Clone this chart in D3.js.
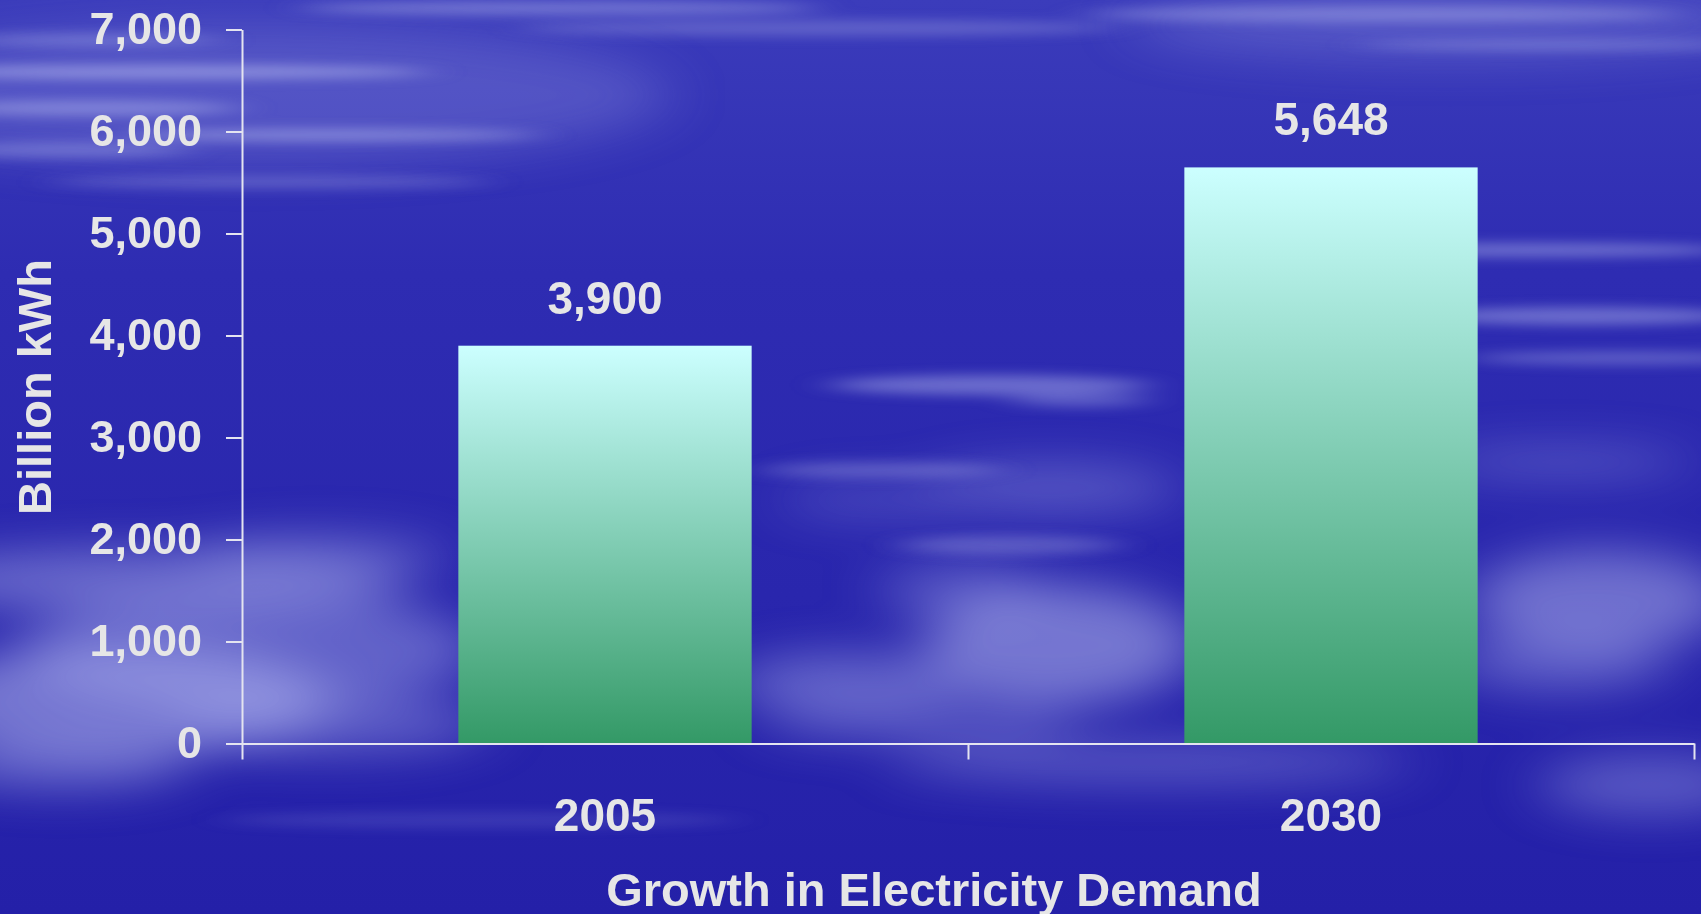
<!DOCTYPE html>
<html>
<head>
<meta charset="utf-8">
<script src="https://cdn.jsdelivr.net/npm/d3@7"></script>
<style>
  html, body { margin: 0; padding: 0; background: #2c2ab0; }
  svg { display: block; }
  text { font-family: "Liberation Sans", Arial, sans-serif; font-weight: bold; fill: #e6e6e6; }
</style>
</head>
<body>
<svg id="chart" width="1701" height="914"></svg>
<script>
// Electricity demand, billion kWh
const years = ["2005", "2030"];
const demand = [3900, 5648];
const yTicks = [0, 1000, 2000, 3000, 4000, 5000, 6000, 7000];
const yTitle = "Billion kWh";
const xTitle = "Growth in Electricity Demand";

// Backdrop cloud shapes: [cx, cy, rx, ry, opacity]
const haze = [
  [120, 700, 210, 55, .6], [250, 650, 230, 60, .45], [150, 580, 260, 32, .5],
  [330, 725, 160, 30, .4], [60, 765, 130, 25, .45], [320, 555, 130, 22, .35],
  [1050, 488, 130, 25, .35], [870, 500, 90, 18, .25], [1060, 645, 135, 60, .6],
  [960, 590, 80, 28, .35], [850, 682, 120, 30, .45], [920, 722, 160, 20, .35],
  [1150, 762, 260, 20, .4], [1600, 600, 130, 50, .55], [1560, 662, 110, 30, .4],
  [1650, 785, 110, 30, .4], [1560, 462, 130, 15, .35], [250, 95, 420, 70, .25],
  [1450, 25, 320, 35, .25]
];
const streaks = [
  [160, 72, 270, 7, .55], [330, 135, 210, 6, .5], [90, 108, 150, 8, .45],
  [560, 8, 260, 7, .45], [820, 28, 300, 8, .3], [1380, 14, 300, 8, .4],
  [1560, 45, 200, 5, .35], [90, 40, 130, 6, .35], [60, 150, 130, 8, .35],
  [270, 182, 220, 6, .3], [1530, 250, 200, 7, .45], [1580, 316, 160, 9, .45],
  [1620, 358, 150, 7, .35], [990, 385, 160, 10, .45], [1080, 400, 70, 7, .35],
  [880, 470, 120, 8, .3], [1010, 545, 110, 10, .3], [480, 820, 260, 8, .15]
];

const W = 1701, H = 914;
const svg = d3.select("#chart");
const defs = svg.append("defs");

const bg = defs.append("linearGradient").attr("id", "bg").attr("x1", 0).attr("y1", 0).attr("x2", 0).attr("y2", 1);
bg.append("stop").attr("offset", "0").attr("stop-color", "#3b3cbb");
bg.append("stop").attr("offset", "0.3").attr("stop-color", "#2e2cb2");
bg.append("stop").attr("offset", "1").attr("stop-color", "#2420a8");

const barGrad = defs.append("linearGradient").attr("id", "barGrad").attr("x1", 0).attr("y1", 0).attr("x2", 0).attr("y2", 1);
barGrad.append("stop").attr("offset", "0").attr("stop-color", "#ccffff");
barGrad.append("stop").attr("offset", "1").attr("stop-color", "#339966");

defs.append("filter").attr("id", "haze").attr("x", "-50%").attr("y", "-100%").attr("width", "200%").attr("height", "300%")
  .append("feGaussianBlur").attr("stdDeviation", "30 22");
defs.append("filter").attr("id", "streak").attr("x", "-50%").attr("y", "-300%").attr("width", "200%").attr("height", "700%")
  .append("feGaussianBlur").attr("stdDeviation", "20 6");

svg.append("rect").attr("width", W).attr("height", H).attr("fill", "url(#bg)");
svg.append("g").attr("filter", "url(#haze)")
  .selectAll("ellipse").data(haze).join("ellipse")
  .attr("cx", d => d[0]).attr("cy", d => d[1]).attr("rx", d => d[2]).attr("ry", d => d[3])
  .attr("fill", "#a8acea").attr("opacity", d => d[4]);
svg.append("g").attr("filter", "url(#streak)")
  .selectAll("ellipse").data(streaks).join("ellipse")
  .attr("cx", d => d[0]).attr("cy", d => d[1]).attr("rx", d => d[2]).attr("ry", d => d[3])
  .attr("fill", "#b8bcf0").attr("opacity", d => d[4]);

// Plot frame
const plotLeft = 242, plotRight = 1694, plotTop = 29.5, plotBottom = 743.5;
const x = d3.scaleBand().domain(years).range([plotLeft, plotRight]).padding(0);
const y = d3.scaleLinear().domain([0, 7000]).range([plotBottom, plotTop]);
const barW = x.bandwidth() * 0.404;

// Bars
svg.append("g").selectAll("rect").data(years).join("rect")
  .attr("x", d => x(d) + (x.bandwidth() - barW) / 2)
  .attr("y", (d, i) => y(demand[i]))
  .attr("width", barW)
  .attr("height", (d, i) => y(0) - y(demand[i]))
  .attr("fill", "url(#barGrad)");

// Value labels
svg.append("g").selectAll("text").data(years).join("text")
  .attr("x", d => x(d) + x.bandwidth() / 2)
  .attr("y", (d, i) => y(demand[i]) - 32)
  .attr("text-anchor", "middle")
  .style("font-size", "46px")
  .text((d, i) => d3.format(",")(demand[i]));

const axisColor = "#e4e4f0";

// Y axis
const yAxis = svg.append("g").attr("transform", `translate(${plotLeft},0)`)
  .call(d3.axisLeft(y).tickValues(yTicks).tickFormat(d3.format(",")).tickSize(16).tickPadding(24).tickSizeOuter(0));
yAxis.select(".domain").attr("stroke", axisColor).attr("stroke-width", 2);
yAxis.selectAll(".tick line").attr("stroke", axisColor).attr("stroke-width", 2);
yAxis.selectAll(".tick text").attr("fill", "#e6e6e6").style("font-size", "45px").style("font-family", "Liberation Sans, Arial, sans-serif");

// X axis: boundary ticks between categories
const xEdges = d3.scaleLinear().domain([0, years.length]).range([plotLeft, plotRight]);
const xAxis = svg.append("g").attr("transform", `translate(0,${plotBottom})`)
  .call(d3.axisBottom(xEdges).tickValues(d3.range(years.length + 1)).tickFormat("").tickSize(16).tickSizeOuter(0));
xAxis.select(".domain").attr("stroke", axisColor).attr("stroke-width", 2);
xAxis.selectAll(".tick line").attr("stroke", axisColor).attr("stroke-width", 2);

// Category labels
const xLab = svg.append("g").attr("transform", `translate(0,${plotBottom})`)
  .call(d3.axisBottom(x).tickSize(0).tickPadding(0));
xLab.select(".domain").remove();
xLab.selectAll(".tick text").attr("fill", "#e6e6e6").attr("dy", null).attr("y", 87)
  .style("font-size", "46px").style("font-family", "Liberation Sans, Arial, sans-serif");

// Axis titles
svg.append("text")
  .attr("transform", "translate(51,387) rotate(-90)")
  .attr("text-anchor", "middle")
  .style("font-size", "47px")
  .text(yTitle);

svg.append("text")
  .attr("x", 934).attr("y", 906)
  .attr("text-anchor", "middle")
  .style("font-size", "47px")
  .text(xTitle);
</script>
</body>
</html>
